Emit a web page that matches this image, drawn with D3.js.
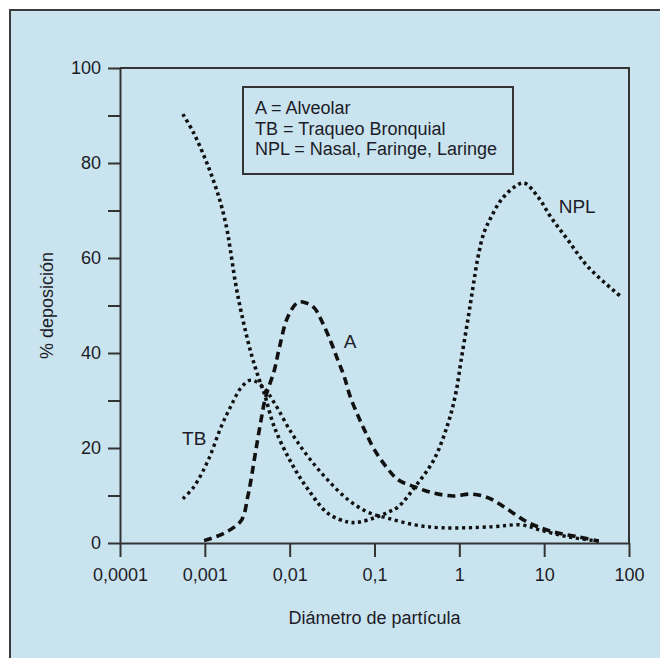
<!DOCTYPE html>
<html>
<head>
<meta charset="utf-8">
<script src="https://cdn.jsdelivr.net/npm/d3@7"></script>
<style>
    body { margin: 0; background: #fff; }
    svg text { font-family: "Liberation Sans", Arial, sans-serif; fill: #1c1c28; }
</style>
</head>
<body>
<div id="chart"></div>
<script>
// diametro de particula (eje log) y % deposicion
var npl_d = [0.00055, 0.00074, 0.0011, 0.0015, 0.0018, 0.002, 0.0023, 0.0027, 0.0035, 0.0044, 0.005, 0.0066, 0.0105, 0.0166, 0.028, 0.049, 0.065, 0.1, 0.145, 0.19, 0.3, 0.5, 0.74, 0.91, 1.05, 1.26, 1.45, 1.66, 1.95, 2.37, 3.1, 4.5, 5.8, 8.5, 12, 19, 33, 81];
var npl_v = [90.3, 86.3, 79.2, 72.2, 66.5, 61.7, 54.7, 48.4, 40, 34.3, 31.6, 24.4, 16.8, 11.2, 6.3, 4.4, 4.4, 5.3, 6.5, 7.6, 11.8, 17.5, 25.3, 31.6, 38.5, 47, 53.9, 60.2, 65.3, 68.6, 72.2, 75, 75.8, 72.8, 68.6, 63.8, 58.1, 51.8];

var tb_d = [0.00055, 0.00074, 0.0011, 0.00155, 0.002, 0.0027, 0.0035, 0.005, 0.0066, 0.0105, 0.0166, 0.028, 0.049, 0.083, 0.145, 0.3, 0.63, 2.37, 5.4, 9.1, 19, 44];
var tb_v = [9.3, 11.8, 17.5, 24.4, 28.6, 32.8, 34.3, 32.6, 29.5, 23.2, 18.1, 13.3, 9.1, 6.5, 5.2, 3.8, 3.2, 3.4, 3.8, 2.7, 1.3, 0.4];

var a_d = [0.00098, 0.0017, 0.0027, 0.0032, 0.0035, 0.004, 0.0046, 0.0052, 0.0066, 0.0076, 0.0095, 0.0126, 0.0158, 0.0195, 0.0245, 0.031, 0.037, 0.044, 0.052, 0.065, 0.079, 0.1, 0.138, 0.19, 0.3, 0.5, 0.85, 1.38, 2.2, 3.5, 5.8, 9.1, 14.5, 25, 44];
var a_v = [0.5, 2.1, 4.8, 9.7, 13.3, 19.6, 25.9, 30.7, 36.4, 41.3, 47.6, 50.7, 50.5, 49.5, 46.3, 42.1, 38.5, 35, 30.7, 26.5, 23.2, 19.6, 16, 13.3, 11.8, 10.5, 9.9, 10.3, 9.5, 7.4, 4.8, 3.2, 2.1, 1.3, 0.4];

var x_ticks = [0.0001, 0.001, 0.01, 0.1, 1, 10, 100];
var x_tick_labels = ['0,0001', '0,001', '0,01', '0,1', '1', '10', '100'];
var y_major = [0, 20, 40, 60, 80, 100];
var y_minor = [10, 30, 50, 70, 90];

var legend_lines = ['A = Alveolar', 'TB = Traqueo Bronquial', 'NPL = Nasal, Faringe, Laringe'];
var curve_labels = [
    { text: 'A', d: 0.0515, v: 41 },
    { text: 'TB', d: 0.00075, v: 20.6 },
    { text: 'NPL', d: 24.5, v: 69.5 }
];

var chart = {
    width: 660,
    height: 658,
    left: 120,
    right: 629,
    top: 68,
    bottom: 543,

    zip: function (ds, vs) {
        return ds.map(function (d, i) { return { d: d, v: vs[i] }; });
    },

    render: function () {
        var svg = d3.select('#chart').append('svg')
            .attr('width', this.width)
            .attr('height', this.height);

        // fondo celeste con marco
        svg.append('rect')
            .attr('x', 10).attr('y', 10)
            .attr('width', 700).attr('height', 700)
            .attr('fill', '#cae4ef')
            .attr('stroke', '#3a3a3a')
            .attr('stroke-width', 2);

        var x = d3.scaleLog().domain([0.0001, 100]).range([this.left, this.right]);
        var y = d3.scaleLinear().domain([0, 100]).range([this.bottom, this.top]);

        // marco del grafico (arriba y derecha)
        svg.append('path')
            .attr('d', 'M' + x(0.0001) + ',' + y(100) + 'H' + x(100) + 'V' + y(0))
            .attr('fill', 'none')
            .attr('stroke', '#333')
            .attr('stroke-width', 2);

        var xAxis = d3.axisBottom(x)
            .tickValues(x_ticks)
            .tickFormat(function (d, i) { return x_tick_labels[i]; })
            .tickSizeInner(14)
            .tickSizeOuter(0)
            .tickPadding(11);

        var gx = svg.append('g')
            .attr('transform', 'translate(0,' + y(0) + ')')
            .call(xAxis);
        gx.select('.domain').attr('stroke', '#333').attr('stroke-width', 2);
        gx.selectAll('.tick line').attr('stroke', '#333').attr('stroke-width', 2);
        gx.selectAll('.tick text')
            .style('font-size', '18px')
            .attr('fill', '#1c1c28');

        var yAxis = d3.axisLeft(y)
            .tickValues(y_major.concat(y_minor))
            .tickFormat(function (d) { return y_major.indexOf(d) >= 0 ? d : ''; })
            .tickSizeInner(12)
            .tickSizeOuter(0)
            .tickPadding(7);

        var gy = svg.append('g')
            .attr('transform', 'translate(' + x(0.0001) + ',0)')
            .call(yAxis);
        gy.select('.domain').attr('stroke', '#333').attr('stroke-width', 2);
        gy.selectAll('.tick line').attr('stroke', '#333').attr('stroke-width', 2);
        gy.selectAll('.tick text')
            .style('font-size', '18px')
            .attr('fill', '#1c1c28');

        // titulos de ejes
        svg.append('text')
            .attr('x', (this.left + this.right) / 2)
            .attr('y', 624)
            .attr('text-anchor', 'middle')
            .style('font-size', '18px')
            .text('Diámetro de partícula');

        svg.append('text')
            .attr('transform', 'translate(53,' + ((this.top + this.bottom) / 2) + ') rotate(-90)')
            .attr('text-anchor', 'middle')
            .style('font-size', '18px')
            .text('% deposición');

        // curvas
        var line = d3.line()
            .x(function (p) { return x(p.d); })
            .y(function (p) { return y(p.v); })
            .curve(d3.curveCatmullRom.alpha(0.5));

        var series = [
            { data: this.zip(npl_d, npl_v), dash: '3.2,3.4', w: 3.6 },
            { data: this.zip(tb_d, tb_v), dash: '3.2,3.6', w: 3.4 },
            { data: this.zip(a_d, a_v), dash: '8,5', w: 3.6 }
        ];

        svg.selectAll('path.serie')
            .data(series)
            .enter()
            .append('path')
            .attr('class', 'serie')
            .attr('d', function (s) { return line(s.data); })
            .attr('fill', 'none')
            .attr('stroke', '#111')
            .attr('stroke-width', function (s) { return s.w; })
            .attr('stroke-dasharray', function (s) { return s.dash; });

        svg.selectAll('text.curve-label')
            .data(curve_labels)
            .enter()
            .append('text')
            .attr('class', 'curve-label')
            .attr('x', function (d) { return x(d.d); })
            .attr('y', function (d) { return y(d.v); })
            .attr('text-anchor', 'middle')
            .style('font-size', '19px')
            .text(function (d) { return d.text; });

        // leyenda
        var lg = svg.append('g').attr('transform', 'translate(243,87)');
        lg.append('rect')
            .attr('width', 270)
            .attr('height', 87)
            .attr('fill', 'none')
            .attr('stroke', '#333')
            .attr('stroke-width', 2);
        lg.selectAll('text')
            .data(legend_lines)
            .enter()
            .append('text')
            .attr('x', 12)
            .attr('y', function (d, i) { return 27 + i * 20.5; })
            .style('font-size', '18px')
            .text(function (d) { return d; });
    }
};

chart.render();
</script>
</body>
</html>
